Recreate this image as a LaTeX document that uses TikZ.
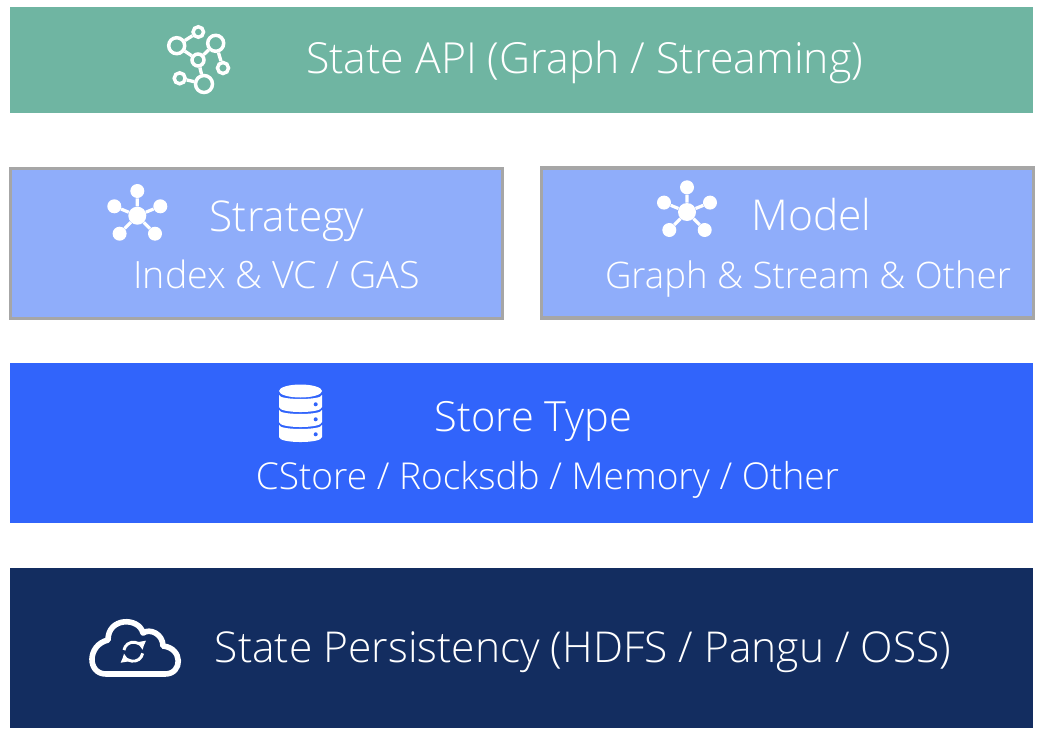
\documentclass[tikz,border=0pt]{standalone}
\usepackage{fontspec}
\setmainfont{Open Sans}[UprightFont=*-Light]
\usetikzlibrary{arrows.meta}
\definecolor{apig}{HTML}{6FB5A2}
\definecolor{midb}{HTML}{8FADFA}
\definecolor{storeb}{HTML}{3164FB}
\definecolor{navyb}{HTML}{132D60}
\definecolor{edgeg}{HTML}{A6A6A6}
\tikzset{
  lbl/.style={text=white,inner sep=0pt,anchor=base,font=\fontsize{#1pt}{38pt}\selectfont},
  ring/.style={circle,draw=white,line width=2.6pt,inner sep=0pt,minimum size=#1*0.75pt},
  dotn/.style={circle,fill=white,inner sep=0pt,minimum size=#1*0.75pt},
  ic/.style={draw=white,line width=2.5pt},
  spoke/.style={draw=white,line width=2.4pt},
  midbox/.style={fill=midb,draw=edgeg,line width=2.3pt},
  syncarrow/.style={draw=white,line width=2.2pt,-{Latex[length=6.5pt,width=8pt]}},
}
\newcommand{\staricon}[3]{% name, x, y
  \begin{scope}[shift={(#2,#3)}]
    \node[dotn=18] (#1c) at (0,0) {};
    \node[dotn=14] (#1a) at (0,-24.7) {};
    \node[dotn=14] (#1b) at (-23,-9.4) {};
    \node[dotn=14] (#1d) at (23,-9.4) {};
    \node[dotn=14] (#1e) at (-17.7,18) {};
    \node[dotn=14] (#1f) at (17.7,18) {};
    \draw[spoke] (#1c)--(#1a) (#1c)--(#1b) (#1c)--(#1d) (#1c)--(#1e) (#1c)--(#1f);
  \end{scope}}
\newcommand{\dblayer}[2]{\fill[white] (279,#1) .. controls (279,#1+5.3) and (322,#1+5.3) .. (322,#1) -- (322,#2) .. controls (322,#2+6.7) and (279,#2+6.7) .. (279,#2) -- cycle;}
\begin{document}
\begin{tikzpicture}[x=0.75pt,y=-0.75pt]
\useasboundingbox (0,0) rectangle (1038,738);
\fill[white] (0,0) rectangle (1038,738);
\fill[apig] (10,7) rectangle (1033,113);
\draw[midbox] (10.5,168.5) rectangle (502.5,318.5);
\draw[midbox] (541.5,168) rectangle (1033.5,318);
\fill[storeb] (10,363) rectangle (1033,523);
\fill[navyb] (10,568) rectangle (1033,728);
% texts
\node[lbl=32.1] (tapi) at (584.5,74) {State API (Graph / Streaming)};
\node[lbl=31.8] (tstr) at (287,231) {Strategy};
\node[lbl=28.2] (tidx) at (276.5,288) {Index \& VC / GAS};
\node[lbl=31.9] (tmod) at (811.5,230) {Model};
\node[lbl=27.4] (tgra) at (808,288) {Graph \& Stream \& Other};
\node[lbl=31.2] (tsto) at (533.5,431) {Store Type};
\node[lbl=27.8] (tcst) at (547.5,489) {CStore / Rocksdb / Memory / Other};
\node[lbl=31.9] (tper) at (583,662) {State Persistency (HDFS / Pangu / OSS)};
% graph icon
\node[ring=16] (g1) at (176.7,45.7) {};
\node[ring=10.5] (g2) at (198.3,32) {};
\node[ring=16] (g3) at (215.7,43.3) {};
\node[ring=11] (g4) at (223,68) {};
\node[ring=12] (g5) at (198,60) {};
\node[ring=11] (g6) at (179.7,78.3) {};
\node[ring=17] (g7) at (204,84) {};
\draw[ic] (g1)--(g2) (g1)--(g5) (g3)--(g5) (g3)--(g4) (g5)--(g7) (g6)--(g7);
% star icons
\staricon{s}{137.3}{215.7}
\staricon{m}{687}{212}
% database
\fill[white] (300.5,391) ellipse[x radius=21.5,y radius=6.5];
\dblayer{395}{407}
\dblayer{410}{422}
\dblayer{425}{437}
\foreach \yy in {404.3,419.3,434.3} \fill[storeb] (315.7,\yy) circle[radius=2];
% cloud
\draw[white,line width=4.2pt,line join=round]
 (106,674) .. controls (87,674) and (87,645) .. (108,640)
 .. controls (108,617) and (139,617) .. (143,633)
 .. controls (150,628) and (163,634) .. (163,646)
 .. controls (183,648) and (183,674) .. (165,674) -- cycle;
\draw[syncarrow] ([shift={(190:9.5)}]133.3,651.7) arc[start angle=190,end angle=350,radius=9.5];
\draw[syncarrow] ([shift={(10:9.5)}]133.3,651.7) arc[start angle=10,end angle=170,radius=9.5];
\end{tikzpicture}
\end{document}
